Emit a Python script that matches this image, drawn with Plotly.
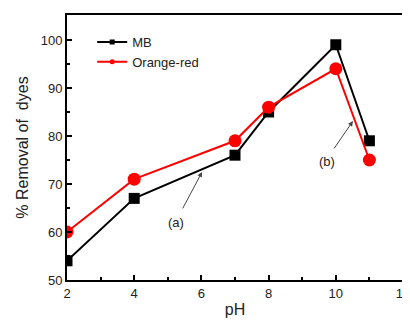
import plotly.graph_objects as go

ph = [2, 4, 7, 8, 10, 11]
mb = [54, 67, 76, 85, 99, 79]
orange_red = [60, 71, 79, 86, 94, 75]

x_ticks = [2, 4, 6, 8, 10, 12]
y_ticks = [50, 60, 70, 80, 90, 100]

font = dict(family="Liberation Sans, Arial, sans-serif", color="#222")

fig = go.Figure()
fig.add_trace(go.Scatter(x=ph, y=mb, mode="lines+markers", name="MB", showlegend=False,
                         line=dict(color="black", width=2), cliponaxis=True,
                         marker=dict(symbol="square", size=11, color="black")))
fig.add_trace(go.Scatter(x=ph, y=orange_red, mode="lines+markers", name="Orange-red", showlegend=False,
                         line=dict(color="#ff0000", width=2), cliponaxis=True,
                         marker=dict(symbol="circle", size=13, color="#ff0000")))
# legend entries with small markers, as in the reference
fig.add_trace(go.Scatter(x=[None], y=[None], mode="lines+markers", name="MB",
                         line=dict(color="black", width=2),
                         marker=dict(symbol="square", size=5, color="black")))
fig.add_trace(go.Scatter(x=[None], y=[None], mode="lines+markers", name="Orange-red",
                         line=dict(color="#ff0000", width=2),
                         marker=dict(symbol="circle", size=5, color="#ff0000")))

fig.add_annotation(x=6.02, y=72.5, ax=5.42, ay=64.6, xref="x", yref="y", axref="x", ayref="y",
                   text="", showarrow=True, arrowhead=2, arrowsize=1, arrowwidth=1, arrowcolor="#444")
fig.add_annotation(x=5.24, y=61.9, text="(a)", showarrow=False, font=dict(size=13, **font))
fig.add_annotation(x=10.51, y=83.1, ax=9.92, ay=77.1, xref="x", yref="y", axref="x", ayref="y",
                   text="", showarrow=True, arrowhead=2, arrowsize=1, arrowwidth=1, arrowcolor="#444")
fig.add_annotation(x=9.74, y=74.6, text="(b)", showarrow=False, font=dict(size=13, **font))

axis_common = dict(showgrid=False, zeroline=False, showline=True, linecolor="black", linewidth=2,
                   mirror=True, ticks="inside", ticklen=5, tickwidth=2, tickcolor="black",
                   tickfont=dict(size=13, **font), automargin=False, ticklabeloverflow="allow")
fig.update_xaxes(range=[2, 12], tickvals=x_ticks,
                 minor=dict(ticks="inside", ticklen=3, tickwidth=1.5, tickcolor="black", dtick=1),
                 title=dict(text="pH", font=dict(size=16, **font), standoff=4), **axis_common)
fig.update_yaxes(range=[50, 105.2], tickvals=y_ticks,
                 minor=dict(ticks="inside", ticklen=3, tickwidth=1.5, tickcolor="black", dtick=5),
                 title=dict(text="% Removal of  dyes", font=dict(size=16, **font), standoff=8), **axis_common)

fig.update_layout(width=402, height=317, margin=dict(l=59, r=7, t=7, b=45, autoexpand=False),
                  plot_bgcolor="white", paper_bgcolor="white",
                  legend=dict(x=0.075, y=0.955, xanchor="left", yanchor="top",
                              bgcolor="rgba(0,0,0,0)", font=dict(size=13, **font),
                              itemwidth=30, tracegroupgap=0),
                  showlegend=True)
fig.write_html("out.html")
